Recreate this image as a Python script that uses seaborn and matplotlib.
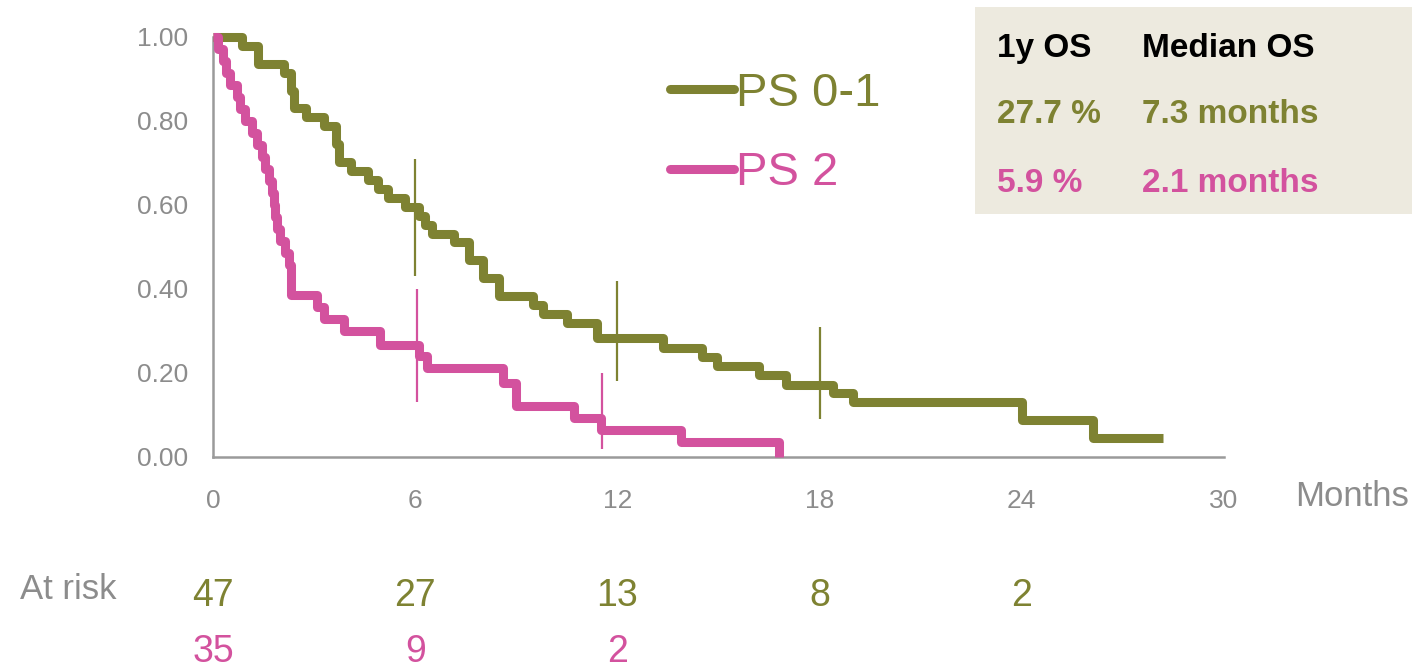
import numpy as np
import pandas as pd
import seaborn as sns
import matplotlib.pyplot as plt
from matplotlib.patches import Rectangle
from matplotlib.lines import Line2D
import matplotlib.transforms as mtrans

# Kaplan-Meier steps (months, survival after step)
ps01_time = [0.0, 0.85, 1.35, 2.1, 2.3, 2.4, 2.75, 3.3, 3.65, 3.75, 4.1, 4.6, 4.9, 5.2, 5.7,
             6.1, 6.3, 6.5, 7.15, 7.6, 8.0, 8.5, 9.5, 9.8, 10.5, 11.4, 13.35, 14.5, 14.95,
             16.2, 17.0, 18.4, 19.0, 24.0, 26.1, 28.2]
ps01_surv = [1.0, 0.979, 0.936, 0.915, 0.872, 0.830, 0.809, 0.787, 0.745, 0.702, 0.681, 0.660,
             0.638, 0.617, 0.596, 0.574, 0.553, 0.532, 0.511, 0.468, 0.426, 0.383, 0.362,
             0.340, 0.319, 0.283, 0.260, 0.238, 0.217, 0.195, 0.171, 0.152, 0.131, 0.088,
             0.045, 0.045]

ps2_time = [0.0, 0.15, 0.3, 0.4, 0.5, 0.7, 0.8, 0.95, 1.15, 1.3, 1.45, 1.55, 1.65, 1.75, 1.8,
            1.85, 1.9, 2.0, 2.15, 2.25, 2.3, 3.1, 3.3, 3.9, 4.95, 6.1, 6.35, 8.6, 9.0, 10.7,
            11.5, 13.9, 16.8]
ps2_surv = [1.0, 0.971, 0.943, 0.914, 0.886, 0.857, 0.829, 0.800, 0.771, 0.743, 0.714, 0.686,
            0.657, 0.629, 0.600, 0.571, 0.543, 0.514, 0.486, 0.457, 0.386, 0.357, 0.329,
            0.300, 0.267, 0.240, 0.212, 0.176, 0.121, 0.093, 0.064, 0.036, 0.0]

# vertical marks on the curves
ps01_mark_x = [6.0, 12.0, 18.0]
ps01_mark_lo = [0.43, 0.18, 0.09]
ps01_mark_hi = [0.71, 0.42, 0.31]
ps2_mark_x = [6.05, 11.55]
ps2_mark_lo = [0.13, 0.02]
ps2_mark_hi = [0.40, 0.20]

groups = ['PS 0-1', 'PS 2']
risk_months = [0, 6, 12, 18, 24]
ps01_risk = [47, 27, 13, 8, 2]
ps2_risk = [35, 9, 2]

table_header = ['1y OS', 'Median OS']
ps01_stats = ['27.7 %', '7.3 months']
ps2_stats = ['5.9 %', '2.1 months']

GREEN = '#7e8232'
PINK = '#d3529e'
GREY = '#8c8c8c'
colors = {'PS 0-1': GREEN, 'PS 2': PINK}

sns.set_style('white')
plt.rcParams['font.family'] = ['Liberation Sans', 'DejaVu Sans']

df = pd.concat([
    pd.DataFrame({'time': ps01_time, 'surv': ps01_surv, 'group': groups[0]}),
    pd.DataFrame({'time': ps2_time, 'surv': ps2_surv, 'group': groups[1]}),
])

fig = plt.figure(figsize=(14.12, 6.71), dpi=100)
ax = fig.add_axes([213 / 1412, 1 - 457 / 671, (1224 - 213) / 1412, (457 - 37) / 671])

sns.lineplot(data=df, x='time', y='surv', hue='group', palette=colors, estimator=None,
             sort=False, drawstyle='steps-post', linewidth=6.5, ax=ax, legend=False,
             solid_capstyle='butt', clip_on=False, zorder=3)

ax.vlines(ps01_mark_x, ps01_mark_lo, ps01_mark_hi, color=GREEN, linewidth=1.6, zorder=4)
ax.vlines(ps2_mark_x, ps2_mark_lo, ps2_mark_hi, color=PINK, linewidth=1.6, zorder=4)

ax.set_xlim(0, 30)
ax.set_ylim(0, 1)
ax.set_xticks([0, 6, 12, 18, 24, 30])
ax.set_yticks([0, 0.2, 0.4, 0.6, 0.8, 1.0])
ax.set_yticklabels([f'{v:.2f}' for v in [0, 0.2, 0.4, 0.6, 0.8, 1.0]])
ax.set_xlabel('')
ax.set_ylabel('')
for side in ['top', 'right']:
    ax.spines[side].set_visible(False)
for side in ['left', 'bottom']:
    ax.spines[side].set_color('#9a9a9a')
    ax.spines[side].set_linewidth(1.8)
ax.tick_params(axis='both', direction='out', length=6, width=1.8, color='#9a9a9a',
               labelcolor=GREY, labelsize=19)
ax.tick_params(axis='x', pad=17)
ax.tick_params(axis='y', pad=12)
ax.set_facecolor('none')

fig.text(1352 / 1412, 1 - 506 / 671, 'Months', ha='center', va='baseline',
         fontsize=25, color=GREY)

# legend
handles = [Line2D([0], [0], color=colors[g], linewidth=6.5) for g in groups]
leg = fig.legend(handles, groups, loc='upper left', bbox_to_anchor=(670 / 1412, 1 - 72 / 671),
                 frameon=False, handlelength=1.35, handletextpad=0.05, labelspacing=0.75,
                 borderpad=0, borderaxespad=0, prop={'size': 34})
for txt, g in zip(leg.get_texts(), groups):
    txt.set_color(colors[g])

# summary box
fig.patches.append(Rectangle((975 / 1412, 1 - 214 / 671), 437 / 1412, 207 / 671,
                             transform=fig.transFigure, facecolor='#edeadf',
                             edgecolor='none', zorder=0))
col_x = [997 / 1412, 1142 / 1412]
rows = [(table_header, 'black', 57), (ps01_stats, GREEN, 123), (ps2_stats, PINK, 192)]
for vals, c, base in rows:
    for x, v in zip(col_x, vals):
        fig.text(x, 1 - base / 671, v, ha='left', va='baseline', fontsize=24,
                 fontweight='bold', color=c)

# at-risk table
fig.text(20 / 1412, 1 - 599 / 671, 'At risk', ha='left', va='baseline', fontsize=25, color=GREY)
trans = mtrans.blended_transform_factory(ax.transData, fig.transFigure)
for m, n in zip(risk_months, ps01_risk):
    ax.text(m, 1 - 606 / 671, str(n), transform=trans, ha='center', va='baseline',
            fontsize=27, color=GREEN)
for m, n in zip(risk_months, ps2_risk):
    ax.text(m, 1 - 662 / 671, str(n), transform=trans, ha='center', va='baseline',
            fontsize=27, color=PINK)

fig.savefig('out.png', dpi=100)
